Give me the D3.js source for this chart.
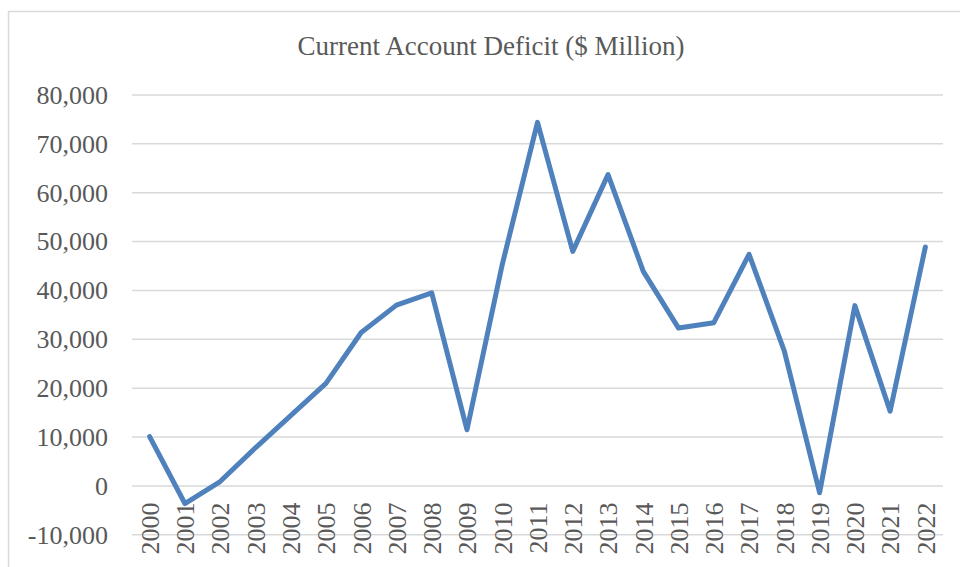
<!DOCTYPE html>
<html>
<head>
<meta charset="utf-8">
<script src="https://cdn.jsdelivr.net/npm/d3@7"></script>
<style>
  html, body { margin: 0; padding: 0; background: #fff; }
  svg { display: block; }
</style>
</head>
<body>
<svg id="chart" width="960" height="567"></svg>
<script>
// Current account deficit by year, $ million
const years = ["2000","2001","2002","2003","2004","2005","2006","2007","2008","2009","2010",
               "2011","2012","2013","2014","2015","2016","2017","2018","2019","2020","2021","2022"];
const deficit = [10000, -3700, 800, 7700, 14300, 20900, 31300, 36900, 39400, 11400, 45200,
                 74300, 47900, 63600, 43800, 32200, 33300, 47300, 27500, -1500, 36800, 15200, 48800];
const yTicks = [-10000, 0, 10000, 20000, 30000, 40000, 50000, 60000, 70000, 80000];
const chartTitle = "Current Account Deficit ($ Million)";

const svg = d3.select("#chart");
const W = 960, H = 567;
const plot = { left: 132, right: 943, top: 94.5, bottom: 534.3 };
const fontFamily = "'Liberation Serif', 'Times New Roman', serif";
const textColor = "#595959";
const gridColor = "#d9d9d9";

// Thousands separator with a plain hyphen for negatives
const fmt = d3.formatLocale({ decimal: ".", thousands: ",", grouping: [3], currency: ["$", ""], minus: "-" }).format(",");

// Chart area frame (continues past the right and bottom edges)
svg.append("rect")
  .attr("x", 8.5).attr("y", 11.5)
  .attr("width", W + 20).attr("height", H + 20)
  .attr("fill", "#fff")
  .attr("stroke", gridColor)
  .attr("stroke-width", 1.5);

const x = d3.scalePoint()
  .domain(years)
  .range([plot.left, plot.right])
  .padding(0.5);

const y = d3.scaleLinear()
  .domain([-10000, 80000])
  .range([plot.bottom, plot.top]);

// Title
svg.append("text")
  .attr("x", 491)
  .attr("y", 55)
  .attr("text-anchor", "middle")
  .attr("font-family", fontFamily)
  .attr("font-size", 27)
  .attr("fill", textColor)
  .text(chartTitle);

// Horizontal gridlines
const yAxis = d3.axisLeft(y)
  .tickValues(yTicks)
  .tickSize(-(plot.right - plot.left))
  .tickPadding(24)
  .tickFormat(fmt);

const gy = svg.append("g")
  .attr("transform", `translate(${plot.left},0)`)
  .call(yAxis);
gy.select(".domain").remove();
gy.selectAll(".tick line")
  .attr("stroke", gridColor)
  .attr("stroke-width", 1.5);
gy.selectAll(".tick text")
  .attr("font-family", fontFamily)
  .attr("font-size", 26)
  .attr("fill", textColor)
  .attr("dy", "0.34em");

// Category labels, rotated, below the zero line
const xAxis = d3.axisBottom(x).tickSize(0).tickPadding(0);
const gx = svg.append("g")
  .attr("transform", `translate(0,${y(0)})`)
  .call(xAxis);
gx.select(".domain").remove();
gx.selectAll(".tick text")
  .attr("font-family", fontFamily)
  .attr("font-size", 26)
  .attr("fill", textColor)
  .attr("text-anchor", "end")
  .attr("transform", "rotate(-90)")
  .attr("x", -17)
  .attr("y", 0)
  .attr("dy", "0.34em");

// Series line
const line = d3.line()
  .x((d, i) => x(years[i]))
  .y(d => y(d));

svg.append("path")
  .datum(deficit)
  .attr("d", line)
  .attr("fill", "none")
  .attr("stroke", "#4f81bd")
  .attr("stroke-width", 5)
  .attr("stroke-linejoin", "round")
  .attr("stroke-linecap", "round");
</script>
</body>
</html>
